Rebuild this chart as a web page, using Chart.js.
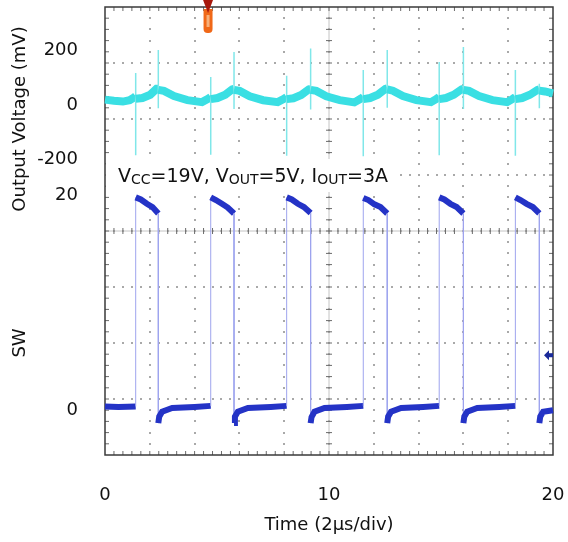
<!DOCTYPE html>
<html>
<head>
<meta charset="utf-8">
<script src="https://cdn.jsdelivr.net/npm/chart.js@4.4.1/dist/chart.umd.min.js"></script>
<style>
  html, body { margin: 0; padding: 0; background: #fff; }
  #wrap { width: 568px; height: 542px; }
</style>
</head>
<body>
<div id="wrap"><canvas id="scope"></canvas></div>
<script>

// Time axis (µs): labelled ticks only; the graticule has 10 divisions of 2 µs
const timeTicks = [0, 10, 20];

// Output voltage ripple, cyan channel (mV)
const mvTicks  = [200, 0, -200];
const voutTime = [
    0, 0.4, 0.8, 1.1, 1.3, 1.37,
    1.37, 1.37, 1.37, 1.67, 2.02, 2.30, 2.38,
    2.38, 2.38, 2.38, 2.63, 3.08, 3.68, 4.33, 4.60, 4.72,
    4.72, 4.72, 4.72, 5.02, 5.37, 5.68, 5.76,
    5.76, 5.76, 5.76, 6.01, 6.46, 7.06, 7.71, 7.99, 8.11,
    8.11, 8.11, 8.11, 8.41, 8.76, 9.10, 9.18,
    9.18, 9.18, 9.18, 9.43, 9.88, 10.48, 11.13, 11.41, 11.53,
    11.53, 11.53, 11.53, 11.83, 12.18, 12.52, 12.60,
    12.60, 12.60, 12.60, 12.85, 13.30, 13.90, 14.55, 14.80, 14.92,
    14.92, 14.92, 14.92, 15.22, 15.57, 15.92, 16.00,
    16.00, 16.00, 16.00, 16.25, 16.70, 17.30, 17.95, 18.20, 18.32,
    18.32, 18.32, 18.32, 18.62, 18.97, 19.31, 19.39,
    19.39, 19.39, 19.39, 19.64, 20.0,
];
const voutMv = [
    12, 8, 5, 10, 20, 25,
    110, -192, 15, 18, 30, 52, 52,
    194, -20, 48, 44, 25, 10, 3, 15, 22,
    95, -190, 14, 18, 30, 50, 52,
    187, -22, 48, 44, 24, 10, 3, 15, 22,
    100, -194, 14, 17, 29, 50, 52,
    200, -24, 48, 44, 24, 10, 2, 15, 22,
    121, -196, 14, 18, 30, 52, 54,
    194, -18, 50, 45, 25, 10, 3, 15, 22,
    150, -192, 14, 18, 30, 50, 52,
    205, -22, 48, 44, 25, 10, 3, 15, 22,
    121, -194, 14, 18, 30, 48, 50,
    70, -20, 45, 42, 35,
];

// Switch node, blue channel (V)
const swTicks = [20, 0];
const swTime  = [
    0, 0.6, 1.0, 1.37,
    1.37, 1.60, 1.87, 2.12, 2.38,
    2.38, 2.42, 2.55, 3.00, 4.00, 4.72,
    4.72, 4.95, 5.22, 5.48, 5.76,
    5.76, 5.80, 5.93, 6.38, 7.40, 8.11,
    8.11, 8.34, 8.61, 8.88, 9.18,
    9.18, 9.22, 9.35, 9.80, 10.80, 11.53,
    11.53, 11.76, 12.03, 12.30, 12.60,
    12.60, 12.64, 12.77, 13.22, 14.20, 14.92,
    14.92, 15.15, 15.42, 15.70, 16.00,
    16.00, 16.04, 16.17, 16.62, 17.60, 18.32,
    18.32, 18.55, 18.82, 19.10, 19.39,
    19.39, 19.43, 19.56, 20.0,
];
const swVolt = [
    0.15, 0.1, 0.12, 0.15,
    19.6, 19.4, 19.0, 18.7, 18.1,
    -1.4, -0.8, -0.35, 0.0, 0.1, 0.2,
    19.6, 19.35, 19.0, 18.65, 18.1,
    -1.4, -0.8, -0.35, 0.0, 0.1, 0.2,
    19.6, 19.4, 19.0, 18.7, 18.15,
    -1.4, -0.85, -0.35, 0.0, 0.1, 0.2,
    19.55, 19.35, 18.95, 18.7, 18.1,
    -1.4, -0.8, -0.35, 0.0, 0.1, 0.2,
    19.6, 19.4, 19.0, 18.7, 18.1,
    -1.4, -0.8, -0.35, 0.0, 0.1, 0.2,
    19.6, 19.35, 19.0, 18.7, 18.1,
    -1.4, -0.8, -0.35, -0.2,
];

// Scope markers: trigger position (µs) and SW channel offset marker (V)
const triggerTime = 4.6;
const swMarkerVolt = 4.9;

// ─── Styling ─────────────────────────────────────────────────────────────────

const FONT = 'DejaVu Sans';
const INK  = '#111111';

const toPoints = (xs, ys) => xs.map((x, i) => ({ x, y: ys[i] }));

// Vertical segments (edges, spikes) are drawn as thin lines, the rest as a thick noisy band
const isEdge = ctx => ctx.p0.parsed.x === ctx.p1.parsed.x;

// ─── Plugins ─────────────────────────────────────────────────────────────────

/** Oscilloscope graticule: dotted divisions, ticked centre cross and frame. */
const graticule = {
    id: 'graticule',
    beforeDatasetsDraw(chart) {
        const { ctx, chartArea: a, scales: { x } } = chart;
        const cols = 10, rows = 8, minor = 5;
        const w = a.right - a.left, h = a.bottom - a.top;
        const cx = x.getPixelForValue(10), cy = a.top + h / 2;

        ctx.save();
        ctx.fillStyle = '#a9a9a9';
        for (let i = 1; i < cols; i++) {
            const px = Math.round(x.getPixelForValue(i * 2));
            for (let k = 1; k < rows * minor; k++) {
                ctx.fillRect(px - 1, Math.round(a.top + k * h / (rows * minor)) - 1, 2, 2);
            }
        }
        for (let j = 1; j < rows; j++) {
            const py = Math.round(a.top + j * h / rows);
            for (let k = 1; k < cols * minor; k++) {
                ctx.fillRect(Math.round(a.left + k * w / (cols * minor)) - 1, py - 1, 2, 2);
            }
        }

        // centre cross
        ctx.strokeStyle = '#c4c4c4';
        ctx.lineWidth = 1;
        ctx.beginPath();
        ctx.moveTo(a.left, cy); ctx.lineTo(a.right, cy);
        ctx.moveTo(cx, a.top);  ctx.lineTo(cx, a.bottom);
        ctx.stroke();

        ctx.strokeStyle = '#6a6a6a';
        ctx.beginPath();
        for (let k = 1; k < cols * minor; k++) {
            const px = a.left + k * w / (cols * minor);
            ctx.moveTo(px, cy - 3); ctx.lineTo(px, cy + 3);
            ctx.moveTo(px, a.top);  ctx.lineTo(px, a.top + 4);
            ctx.moveTo(px, a.bottom); ctx.lineTo(px, a.bottom - 4);
        }
        for (let k = 1; k < rows * minor; k++) {
            const py = a.top + k * h / (rows * minor);
            ctx.moveTo(cx - 3, py); ctx.lineTo(cx + 3, py);
            ctx.moveTo(a.left, py); ctx.lineTo(a.left + 4, py);
            ctx.moveTo(a.right, py); ctx.lineTo(a.right - 4, py);
        }
        ctx.stroke();

        // frame
        ctx.strokeStyle = '#3a3a3a';
        ctx.lineWidth = 1.5;
        ctx.strokeRect(a.left, a.top, w, h);
        ctx.restore();
    },
};

/** Condition label on a white panel, with subscripts. */
const conditionLabel = {
    id: 'conditionLabel',
    afterDatasetsDraw(chart) {
        const { ctx, chartArea: a } = chart;
        const parts = [
            ['V', false], ['CC', true], ['=19V, V', false], ['OUT', true],
            ['=5V, I', false], ['OUT', true], ['=3A', false],
        ];
        const top = a.top + 152, base = a.top + 175;

        ctx.save();
        ctx.fillStyle = '#ffffff';
        ctx.fillRect(a.left + 1, top, 292, 33);
        ctx.fillStyle = INK;
        ctx.textBaseline = 'alphabetic';
        let cursor = a.left + 13;
        for (const [text, sub] of parts) {
            ctx.font = `${sub ? 14 : 19}px "${FONT}"`;
            ctx.fillText(text, cursor, sub ? base + 2 : base);
            cursor += ctx.measureText(text).width;
        }
        ctx.restore();
    },
};

/** Trigger flag at the top edge and the channel marker at the right edge. */
const scopeMarkers = {
    id: 'scopeMarkers',
    afterDraw(chart) {
        const { ctx, chartArea: a, scales: { x, y2 } } = chart;
        const tx = x.getPixelForValue(triggerTime);

        ctx.save();
        // trigger flag
        ctx.fillStyle = '#f06818';
        ctx.beginPath();
        ctx.roundRect(tx - 4.5, a.top + 2, 9, 24, [0, 0, 4, 4]);
        ctx.fill();
        ctx.fillStyle = '#f7b07a';
        ctx.fillRect(tx - 1.5, a.top + 8, 3, 12);
        ctx.fillStyle = '#a8180c';
        ctx.beginPath();
        ctx.moveTo(tx - 5, a.top - 7);
        ctx.lineTo(tx + 5, a.top - 7);
        ctx.lineTo(tx, a.top + 6);
        ctx.closePath();
        ctx.fill();

        // channel marker arrow
        const my = y2.getPixelForValue(swMarkerVolt);
        ctx.fillStyle = '#1a2a9a';
        ctx.beginPath();
        ctx.moveTo(a.right - 9, my);
        ctx.lineTo(a.right - 4, my - 5);
        ctx.lineTo(a.right - 4, my - 2);
        ctx.lineTo(a.right, my - 2);
        ctx.lineTo(a.right, my + 2);
        ctx.lineTo(a.right - 4, my + 2);
        ctx.lineTo(a.right - 4, my + 5);
        ctx.closePath();
        ctx.fill();
        ctx.restore();
    },
};

// ─── Chart ───────────────────────────────────────────────────────────────────

const tickFont  = { family: FONT, size: 18 };
const titleFont = { family: FONT, size: 18 };
const fixedTicks = values => scale => { scale.ticks = values.map(value => ({ value })); };

// Pin an axis box to a fixed size and drop the label overhang Chart.js reserves
const pinAxis = (prop, size) => s => {
    s[prop] = size;
    s.paddingLeft = s.paddingRight = s.paddingTop = s.paddingBottom = 0;
};

new Chart(document.getElementById('scope'), {
    type: 'line',
    data: {
        datasets: [
            {
                label: 'SW',
                data: toPoints(swTime, swVolt),
                yAxisID: 'y2',
                borderColor: '#2433c6',
                borderWidth: 6,
                pointRadius: 0,
                tension: 0,
                clip: false,
                segment: {
                    borderWidth: ctx => isEdge(ctx) ? 1 : 6,
                    borderColor: ctx => isEdge(ctx) ? '#9ea4ee' : '#2433c6',
                },
            },
            {
                label: 'Output Voltage',
                data: toPoints(voutTime, voutMv),
                yAxisID: 'y',
                borderColor: '#3adfe3',
                borderWidth: 8,
                pointRadius: 0,
                tension: 0,
                clip: false,
                segment: {
                    borderWidth: ctx => isEdge(ctx) ? 1.5 : 8,
                    borderColor: ctx => isEdge(ctx) ? '#80e7e9' : '#3adfe3',
                },
            },
        ],
    },
    options: {
        responsive: true,
        maintainAspectRatio: false,
        animation: false,
        devicePixelRatio: 1,
        layout: { padding: { top: 7, right: 15, bottom: 0, left: 0 } },
        plugins: { legend: { display: false }, tooltip: { enabled: false } },
        scales: {
            x: {
                type: 'linear',
                min: 0,
                max: 20,
                grid: { display: false },
                border: { display: false },
                afterBuildTicks: fixedTicks(timeTicks),
                ticks: { font: tickFont, color: INK, padding: 22, maxRotation: 0, callback: v => String(v) },
                title: { display: true, text: 'Time (2µs/div)', font: titleFont, color: INK, padding: { top: 0, bottom: 6 } },
                afterFit: pinAxis('height', 87),
            },
            y: {
                type: 'linear',
                position: 'left',
                stack: 'scope',
                stackWeight: 1,
                weight: 2,
                min: -470,
                max: 352,
                grid: { display: false },
                border: { display: false },
                afterBuildTicks: fixedTicks(mvTicks),
                ticks: { font: tickFont, color: INK, padding: 19, labelOffset: 2, callback: v => String(v) },
                title: { display: true, text: 'Output Voltage (mV)', font: titleFont, color: INK, padding: { top: 10, bottom: 0 } },
                afterFit: pinAxis('width', 105),
            },
            y2: {
                type: 'linear',
                position: 'left',
                stack: 'scope',
                stackWeight: 1,
                weight: 1,
                min: -4.37,
                max: 16.47,
                grid: { display: false },
                border: { display: false },
                afterBuildTicks: fixedTicks(swTicks),
                ticks: { font: tickFont, color: INK, padding: 19, labelOffset: 2, callback: v => String(v) },
                title: { display: true, text: 'SW', font: titleFont, color: INK, padding: { top: 10, bottom: 0 } },
                afterFit: pinAxis('width', 105),
            },
        },
    },
    plugins: [graticule, conditionLabel, scopeMarkers],
});
</script>
</body>
</html>
